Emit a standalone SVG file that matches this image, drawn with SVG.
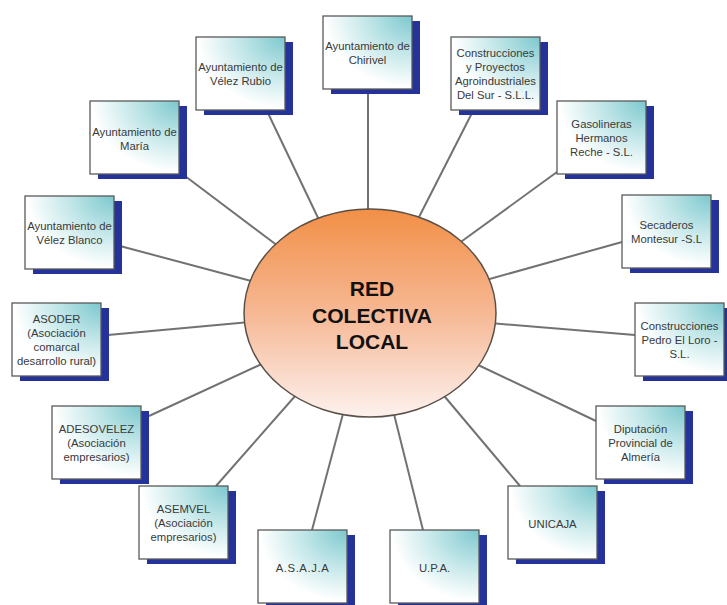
<svg xmlns="http://www.w3.org/2000/svg" width="727" height="605" viewBox="0 0 727 605">
<defs>
<radialGradient id="boxg" cx="1" cy="0" r="1.15" fx="1" fy="0">
<stop offset="0" stop-color="#7cc8ce"/>
<stop offset="0.45" stop-color="#c4e7e9"/>
<stop offset="0.85" stop-color="#ffffff"/>
</radialGradient>
<linearGradient id="ellg" x1="0" y1="0" x2="0" y2="1">
<stop offset="0" stop-color="#f28f46"/>
<stop offset="0.5" stop-color="#f6b894"/>
<stop offset="1" stop-color="#fdf1ee"/>
</linearGradient>
</defs>
<style>
.sh{fill:#24329a}
.bx{fill:url(#boxg);stroke:#5a5a5a;stroke-width:1.3}
.t{font-family:"Liberation Sans",Arial,sans-serif;font-size:11.3px;fill:#3a3a3a;text-anchor:middle}
.c{stroke:#727272;stroke-width:2;fill:none}
.ct{font-family:"Liberation Sans",Arial,sans-serif;font-size:21px;font-weight:bold;fill:#111;text-anchor:middle}
</style>
<rect width="727" height="605" fill="#ffffff"/>
<g id="connectors">
<line class="c" x1="368" y1="89" x2="368" y2="215"/>
<line class="c" x1="267" y1="111" x2="320" y2="222"/>
<line class="c" x1="473" y1="111" x2="417" y2="221"/>
<line class="c" x1="557" y1="172" x2="458" y2="244"/>
<line class="c" x1="622" y1="242" x2="486" y2="280"/>
<line class="c" x1="635" y1="335" x2="490" y2="323"/>
<line class="c" x1="596" y1="421" x2="476" y2="364"/>
<line class="c" x1="520" y1="486" x2="440" y2="391"/>
<line class="c" x1="423" y1="530" x2="393" y2="410"/>
<line class="c" x1="312" y1="530" x2="344" y2="410"/>
<line class="c" x1="216" y1="486" x2="303" y2="387"/>
<line class="c" x1="149" y1="416" x2="264" y2="363"/>
<line class="c" x1="108" y1="335" x2="250" y2="322"/>
<line class="c" x1="120" y1="246" x2="255" y2="282"/>
<line class="c" x1="185" y1="176" x2="278" y2="246"/>
</g>
<g id="center">
<ellipse cx="370" cy="313" rx="126" ry="104" fill="url(#ellg)" stroke="#5a5048" stroke-width="1.5"/>
<text class="ct" x="372" y="296">RED</text>
<text class="ct" x="372" y="323">COLECTIVA</text>
<text class="ct" x="372" y="349">LOCAL</text>
</g>
<g id="n-chirivel">
<rect class="sh" x="331" y="21" width="89" height="73"/>
<rect class="bx" x="323" y="16" width="89" height="73"/>
<text class="t" x="367.5" y="50">Ayuntamiento de<tspan x="367.5" dy="14">Chirivel</tspan></text>
</g>
<g id="n-velezrubio">
<rect class="sh" x="204" y="42" width="89" height="73"/>
<rect class="bx" x="196" y="37" width="89" height="73"/>
<text class="t" x="240.5" y="71">Ayuntamiento de<tspan x="240.5" dy="14">Vélez Rubio</tspan></text>
</g>
<g id="n-agro">
<rect class="sh" x="459" y="42" width="89" height="73"/>
<rect class="bx" x="451" y="37" width="89" height="73"/>
<text class="t" x="495.5" y="57">Construcciones<tspan x="495.5" dy="14">y Proyectos</tspan><tspan x="495.5" dy="14">Agroindustriales</tspan><tspan x="495.5" dy="14">Del Sur - S.L.L.</tspan></text>
</g>
<g id="n-gasolineras">
<rect class="sh" x="565" y="106" width="89" height="73"/>
<rect class="bx" x="557" y="101" width="89" height="73"/>
<text class="t" x="601.5" y="128">Gasolineras<tspan x="601.5" dy="14">Hermanos</tspan><tspan x="601.5" dy="14">Reche - S.L.</tspan></text>
</g>
<g id="n-maria">
<rect class="sh" x="98" y="106" width="89" height="73"/>
<rect class="bx" x="90" y="101" width="89" height="73"/>
<text class="t" x="134.5" y="136">Ayuntamiento de<tspan x="134.5" dy="14">María</tspan></text>
</g>
<g id="n-velezblanco">
<rect class="sh" x="33" y="201" width="89" height="73"/>
<rect class="bx" x="25" y="196" width="89" height="73"/>
<text class="t" x="69.5" y="230">Ayuntamiento de<tspan x="69.5" dy="14">Vélez Blanco</tspan></text>
</g>
<g id="n-secaderos">
<rect class="sh" x="630" y="200" width="89" height="73"/>
<rect class="bx" x="622" y="195" width="89" height="73"/>
<text class="t" x="666.5" y="229">Secaderos<tspan x="666.5" dy="14">Montesur -S.L</tspan></text>
</g>
<g id="n-asoder">
<rect class="sh" x="20" y="308" width="89" height="73"/>
<rect class="bx" x="12" y="303" width="89" height="73"/>
<text class="t" x="56.5" y="323">ASODER<tspan x="56.5" dy="14">(Asociación</tspan><tspan x="56.5" dy="14">comarcal</tspan><tspan x="56.5" dy="14">desarrollo rural)</tspan></text>
</g>
<g id="n-pedroelloro">
<rect class="sh" x="643" y="308" width="89" height="73"/>
<rect class="bx" x="635" y="303" width="89" height="73"/>
<text class="t" x="679.5" y="330">Construcciones<tspan x="679.5" dy="14">Pedro El Loro -</tspan><tspan x="679.5" dy="14">S.L.</tspan></text>
</g>
<g id="n-adesovelez">
<rect class="sh" x="60" y="411" width="89" height="73"/>
<rect class="bx" x="52" y="406" width="89" height="73"/>
<text class="t" x="96.5" y="433">ADESOVELEZ<tspan x="96.5" dy="14">(Asociación</tspan><tspan x="96.5" dy="14">empresarios)</tspan></text>
</g>
<g id="n-diputacion">
<rect class="sh" x="604" y="411" width="89" height="73"/>
<rect class="bx" x="596" y="406" width="89" height="73"/>
<text class="t" x="640.5" y="433">Diputación<tspan x="640.5" dy="14">Provincial de</tspan><tspan x="640.5" dy="14">Almería</tspan></text>
</g>
<g id="n-asemvel">
<rect class="sh" x="147" y="491" width="89" height="73"/>
<rect class="bx" x="139" y="486" width="89" height="73"/>
<text class="t" x="183.5" y="513">ASEMVEL<tspan x="183.5" dy="14">(Asociación</tspan><tspan x="183.5" dy="14">empresarios)</tspan></text>
</g>
<g id="n-unicaja">
<rect class="sh" x="516" y="491" width="89" height="73"/>
<rect class="bx" x="508" y="486" width="89" height="73"/>
<text class="t" x="552.5" y="528">UNICAJA</text>
</g>
<g id="n-asaja">
<rect class="sh" x="266" y="535" width="89" height="73"/>
<rect class="bx" x="258" y="530" width="89" height="73"/>
<text class="t" x="302.5" y="572" letter-spacing="0.6">A.S.A.J.A</text>
</g>
<g id="n-upa">
<rect class="sh" x="398" y="535" width="89" height="73"/>
<rect class="bx" x="390" y="530" width="89" height="73"/>
<text class="t" x="434.5" y="572">U.P.A.</text>
</g>
</svg>
